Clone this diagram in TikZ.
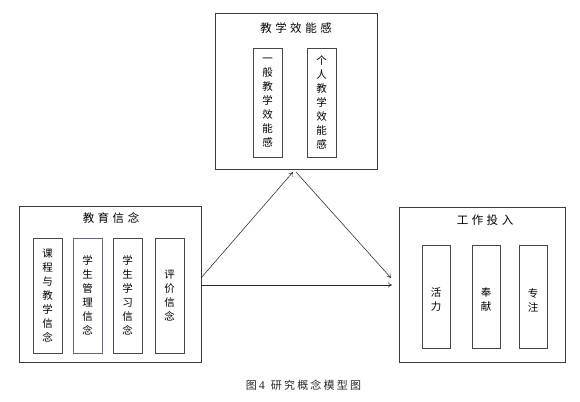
\documentclass[tikz,border=0pt]{standalone}
\usepackage{fontspec}
\setmainfont{Liberation Serif}
\newfontfamily\cjk{Noto Sans CJK SC}
\usetikzlibrary{arrows.meta}
\definecolor{boxline}{RGB}{60,60,60}
\definecolor{innerline}{RGB}{70,70,70}
\definecolor{blueline}{RGB}{95,95,150}
\tikzset{
  outerbox/.style={draw=boxline, line width=0.9pt, inner sep=0pt, outer sep=0pt, fill=white},
  innerbox/.style={draw=innerline, line width=0.9pt, inner sep=0pt, outer sep=0pt, minimum width=29pt},
  vtext/.style={font=\cjk\fontsize{10.5}{14}\selectfont, align=center, inner sep=0pt},
  ttext/.style={font=\cjk\fontsize{11.5}{14}\selectfont, inner sep=0pt},
  link/.style={draw=black!85, line width=0.55pt, -{To[length=4pt,width=5pt]}}
}
\newcommand{\gap}{\hspace{3.5pt}}
\newcommand{\cgap}{\hspace{2.2pt}}
\begin{document}
\begin{tikzpicture}[x=1pt,y=-1pt]
\useasboundingbox (0,0) rectangle (580,401);
% top box
\node[outerbox, minimum width=162pt, minimum height=156pt] (top) at (296,91) {};
\node[ttext] (toptitle) at (296,28) {教\gap 学\gap 效\gap 能\gap 感};
\node[innerbox, minimum height=109pt] (t1) at (267.5,102.5) {};
\node[innerbox, minimum height=109pt] (t2) at (321.5,102.5) {};
\node[vtext] (t1t) at (t1) {一\\般\\教\\学\\效\\能\\感};
\node[vtext] (t2t) at (t2) {个\\人\\教\\学\\效\\能\\感};
% left box
\node[outerbox, minimum width=182pt, minimum height=156pt] (left) at (110,284) {};
\node[ttext] (lefttitle) at (111,218) {教\gap 育\gap 信\gap 念};
\node[innerbox, minimum height=115pt] (l1) at (47.5,295.5) {};
\node[innerbox, draw=blueline, minimum height=115pt] (l2) at (87.5,295.5) {};
\node[innerbox, minimum height=115pt] (l3) at (127.5,295.5) {};
\node[innerbox, minimum height=115pt] (l4) at (169.5,295.5) {};
\node[vtext] (l1t) at (l1) {课\\程\\与\\教\\学\\信\\念};
\node[vtext] (l2t) at (l2) {学\\生\\管\\理\\信\\念};
\node[vtext] (l3t) at (l3) {学\\生\\学\\习\\信\\念};
\node[vtext] (l4t) at (l4) {评\\价\\信\\念};
% right box
\node[outerbox, minimum width=166pt, minimum height=155pt] (right) at (482,284.5) {};
\node[ttext] (righttitle) at (485,220) {工\gap 作\gap 投\gap 入};
\node[innerbox, minimum width=28pt, minimum height=103pt] (r1) at (436,296.5) {};
\node[innerbox, minimum width=28pt, minimum height=103pt] (r2) at (486,296.5) {};
\node[innerbox, minimum width=28pt, minimum height=103pt] (r3) at (533,296.5) {};
\node[vtext] (r1t) at (436,300) {活\\力};
\node[vtext] (r2t) at (486,300) {奉\\献};
\node[vtext] (r3t) at (533,300) {专\\注};
% connector ends
\coordinate (a1) at (201,278);
\coordinate (a2) at (293,172);
\coordinate (b1) at (296,172);
\coordinate (b2) at (391,278);
\coordinate (c1) at (201,285);
\coordinate (c2) at (392,285);
\draw[link] (a1) -- (a2);
\draw[link] (b1) -- (b2);
\draw[link] (c1) -- (c2);
% caption
\node[font=\cjk\fontsize{11}{13}\selectfont, inner sep=0pt, text=black!85] (cap) at (303.5,385) {图{\rmfamily\fontsize{12}{13}\selectfont\,4}\hspace{6pt}研\cgap 究\cgap 概\cgap 念\cgap 模\cgap 型\cgap 图};
\end{tikzpicture}
\end{document}
